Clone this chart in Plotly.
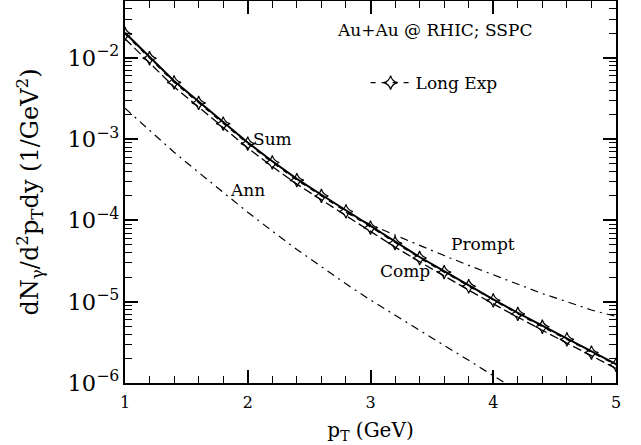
import math
import plotly.graph_objects as go

pt = [1.0, 1.2, 1.4, 1.6, 1.8, 2.0, 2.2, 2.4, 2.6, 2.8, 3.0,
      3.2, 3.4, 3.6, 3.8, 4.0, 4.2, 4.4, 4.6, 4.8, 5.0]

sum_vals = [2.04e-2, 1.03e-2, 5.2e-3, 2.91e-3, 1.61e-3, 9.1e-4, 5.35e-4, 3.25e-4,
            2.07e-4, 1.33e-4, 8.4e-5, 5.4e-5, 3.55e-5, 2.38e-5, 1.59e-5, 1.07e-5,
            7.3e-6, 5.05e-6, 3.53e-6, 2.42e-6, 1.71e-6]

long_exp = [1.97e-2, 9.9e-3, 5.0e-3, 2.8e-3, 1.55e-3, 8.8e-4, 5.17e-4, 3.14e-4,
            2.0e-4, 1.29e-4, 8.15e-5, 5.25e-5, 3.45e-5, 2.31e-5, 1.55e-5, 1.04e-5,
            7.1e-6, 4.92e-6, 3.44e-6, 2.36e-6, 1.67e-6]

comp = [1.72e-2, 8.7e-3, 4.4e-3, 2.48e-3, 1.38e-3, 7.8e-4, 4.6e-4, 2.8e-4,
        1.79e-4, 1.15e-4, 7.3e-5, 4.7e-5, 3.1e-5, 2.1e-5, 1.39e-5, 9.4e-6,
        6.4e-6, 4.45e-6, 3.1e-6, 2.14e-6, 1.51e-6]

ann_pt = [1.0, 1.2, 1.4, 1.6, 1.8, 2.0, 2.2, 2.4, 2.6, 2.8, 3.0,
          3.2, 3.4, 3.6, 3.8, 4.0, 4.2]
ann = [2.4e-3, 1.29e-3, 6.9e-4, 3.9e-4, 2.19e-4, 1.26e-4, 7.4e-5, 4.4e-5,
       2.7e-5, 1.66e-5, 1.05e-5, 6.8e-6, 4.4e-6, 2.9e-6, 1.9e-6, 1.22e-6, 8.0e-7]

prompt_pt = [2.8, 3.0, 3.2, 3.4, 3.6, 3.8, 4.0, 4.2, 4.4, 4.6, 4.8, 5.0]
prompt = [1.25e-4, 8.9e-5, 6.6e-5, 4.9e-5, 3.7e-5, 2.8e-5, 2.15e-5, 1.66e-5,
          1.26e-5, 1.0e-5, 7.9e-6, 6.6e-6]

FONT = "DejaVu Serif"
fig = go.Figure()

fig.add_trace(go.Scatter(x=pt, y=sum_vals, mode="lines", name="Sum",
                         line=dict(color="black", width=2), showlegend=False))
fig.add_trace(go.Scatter(x=pt, y=comp, mode="lines", name="Comp",
                         line=dict(color="black", width=1.3, dash="9px,4px"),
                         showlegend=False))
fig.add_trace(go.Scatter(x=ann_pt, y=ann, mode="lines", name="Ann",
                         line=dict(color="black", width=1.2, dash="8px,5px,2px,5px"),
                         showlegend=False))
fig.add_trace(go.Scatter(x=prompt_pt, y=prompt, mode="lines", name="Prompt",
                         line=dict(color="black", width=1.2, dash="8px,5px,2px,5px"),
                         showlegend=False))
fig.add_trace(go.Scatter(x=pt, y=long_exp, mode="lines+markers", name="Long Exp",
                         line=dict(color="black", width=1.3, dash="5px,6px"),
                         marker=dict(symbol="star-diamond-open", size=10, color="black",
                                     line=dict(width=1.2, color="black")),
                         showlegend=True))

labels = [("Sum", 2.03, 1.0e-3), ("Ann", 1.84, 2.4e-4),
          ("Prompt", 3.64, 5.1e-5), ("Comp", 3.06, 2.4e-5)]
for txt, x, y in labels:
    fig.add_annotation(x=x, y=math.log10(y), text=txt, showarrow=False,
                       xanchor="left", yanchor="middle",
                       font=dict(family=FONT, size=17, color="black"))

fig.add_annotation(xref="paper", yref="paper", x=0.63, y=0.925, text="Au+Au @ RHIC; SSPC",
                   showarrow=False, xanchor="center", yanchor="middle",
                   font=dict(family=FONT, size=17, color="black"))

fig.update_layout(
    width=641, height=445,
    margin=dict(l=125, r=25, t=1, b=62),
    plot_bgcolor="white", paper_bgcolor="white",
    font=dict(family=FONT, size=16, color="black"),
    legend=dict(x=0.49, y=0.785, xanchor="left", yanchor="middle",
                bgcolor="rgba(0,0,0,0)", itemwidth=40,
                font=dict(family=FONT, size=17, color="black")),
)

fig.update_xaxes(range=[1, 5], tickvals=[1, 2, 3, 4, 5], ticktext=["1", "2", "3", "4", "5"],
                 automargin=False, ticklabelstandoff=4,
                 ticks="inside", ticklen=13, tickwidth=1.5, tickcolor="black",
                 minor=dict(dtick=0.2, ticks="inside", ticklen=7, tickwidth=1.2,
                            tickcolor="black", showgrid=False),
                 showline=True, linecolor="black", linewidth=2, mirror="allticks",
                 showgrid=False, zeroline=False,
                 title=dict(text="p<sub>T</sub> (GeV)", standoff=12,
                            font=dict(family=FONT, size=20)),
                 tickfont=dict(family=FONT, size=16))

fig.update_yaxes(type="log", range=[-6, -1.3], dtick=1, exponentformat="power",
                 automargin=False,
                 ticks="inside", ticklen=13, tickwidth=1.5, tickcolor="black",
                 minor=dict(ticks="inside", ticklen=7, tickwidth=1.2, tickcolor="black",
                            showgrid=False),
                 showline=True, linecolor="black", linewidth=2, mirror="allticks",
                 showgrid=False, zeroline=False,
                 title=dict(text="dN<sub>γ</sub>/d<sup>2</sup>p<sub>T</sub>dy (1/GeV<sup>2</sup>)",
                            standoff=22, font=dict(family=FONT, size=24)),
                 tickfont=dict(family=FONT, size=18))

fig.write_html("out.html", config={"displayModeBar": False},
               post_script="document.body.style.margin='0px';")
